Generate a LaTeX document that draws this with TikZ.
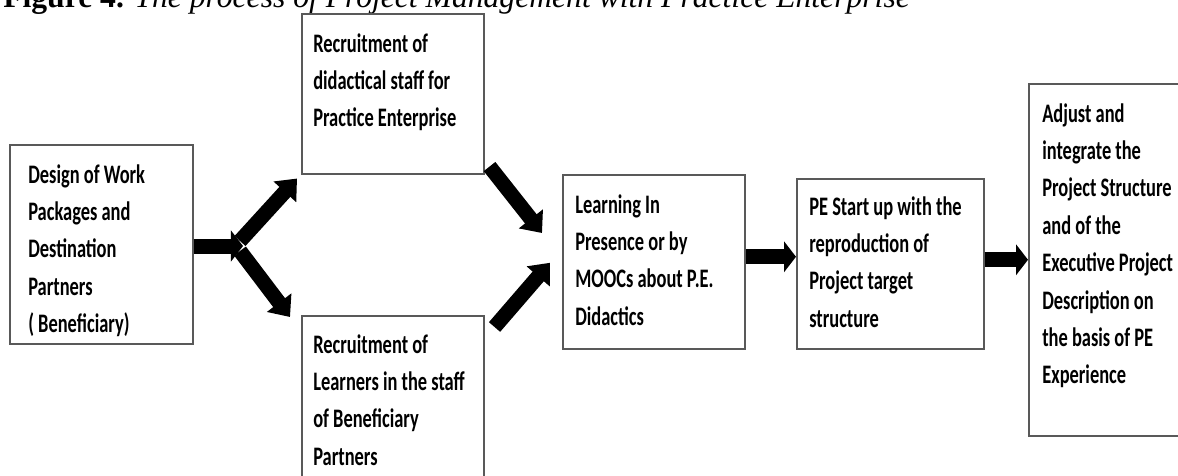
\documentclass[tikz,border=0pt]{standalone}
\usepackage{fontspec}
\usepackage{graphicx}
\usetikzlibrary{arrows.meta,calc}
\newfontfamily\boxfont{Carlito}
\newfontfamily\capfont{Liberation Serif}
% narrow bold lines inside the boxes
\newcommand{\boxlines}[1]{\scalebox{0.69}[1]{\parbox[t]{12cm}{\fontsize{19}{26.6}\selectfont\raggedright #1}}}
\begin{document}
\begin{tikzpicture}[x=0.025cm,y=-0.025cm,
    box/.style={draw=black!65, line width=1.1pt, inner sep=0pt, anchor=north west},
    txt/.style={anchor=base west, inner sep=0pt, font=\boxfont\bfseries},
    flow/.style={line width=0.375cm, -{Triangle[length=0.3cm,width=0.76cm]}},
    slant/.style={line width=0.37cm, -{Triangle[length=0.45cm,width=0.74cm]}},
    halo/.style={white, line width=0.5cm, -{Triangle[length=0.42cm,width=0.98cm]}}]
  \useasboundingbox (0,0) rectangle (1178,475);
  \node[anchor=base west, inner sep=0pt, font=\capfont\fontsize{22.5}{27}\selectfont] (caption) at (3,7)
    {\textbf{Figure 4.} \textit{The process of Project Management with Practice Enterprise}};
  % the boxes
  \node[box, minimum width=183*0.025cm, minimum height=199*0.025cm] (design) at (9,144) {};
  \node[box, minimum width=182*0.025cm, minimum height=160*0.025cm] (recstaff) at (301,13) {};
  \node[box, minimum width=182*0.025cm, minimum height=180*0.025cm] (reclearn) at (301,315) {};
  \node[box, minimum width=182*0.025cm, minimum height=174*0.025cm] (learning) at (562,174) {};
  \node[box, minimum width=187*0.025cm, minimum height=170*0.025cm] (pestart) at (796,178) {};
  \node[box, minimum width=180*0.025cm, minimum height=352*0.025cm] (adjust) at (1028,83) {};
  % their texts
  \node[txt] (designtxt) at (28,183) {\boxlines{Design of Work\\Packages and\\Destination\\Partners\\( Beneficiary)}};
  \node[txt] (recstafftxt) at (313,52) {\boxlines{Recruitment of\\didactical staff for\\Practice Enterprise}};
  \node[txt] (reclearntxt) at (313,353) {\boxlines{Recruitment of\\Learners in the staff\\of Beneficiary\\Partners}};
  \node[txt] (learningtxt) at (575,213) {\boxlines{Learning In\\Presence or by\\MOOCs about P.E.\\Didactics}};
  \node[txt] (pestarttxt) at (809,215) {\boxlines{PE Start up with the\\reproduction of\\Project target\\structure}};
  \node[txt] (adjusttxt) at (1042,122) {\boxlines{Adjust and\\integrate the\\Project Structure\\and of the\\Executive Project\\Description on\\the basis of PE\\Experience}};
  % arrows
  \coordinate (fork) at (243,246);
  \draw[slant] ($(fork)+(-3,-5)$) -- ($(recstaff.south west)+(-4,4)$);
  \draw[slant] ($(fork)+(-3,5)$) -- ($(reclearn.north west)+(-11,2)$);
  \draw[halo] (design.east |- fork) -- (fork);
  \draw[flow] (design.east |- fork) -- (fork);
  \draw[slant] ($(recstaff.south east)+(5,-8)$) -- ($(learning.north west)+(-20,59)$);
  \draw[slant] ($(reclearn.north east)+(10,12)$) -- ($(learning.west)+(-12,1)$);
  \coordinate (ltop) at ($(learning.east)+(0,-5)$);
  \draw[flow] (ltop) -- (ltop -| pestart.west);
  \draw[flow] (pestart.east |- adjust.west) -- (adjust.west);
\end{tikzpicture}
\end{document}
